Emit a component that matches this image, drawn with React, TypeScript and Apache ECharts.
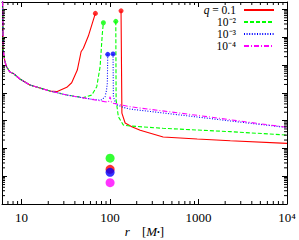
import React, { useEffect, useRef } from "react";
import * as echarts from "echarts";

const X_MIN = 6;
const X_MAX = 10000;
const Y_MIN = 1;
const Y_MAX = 1.85e7;

const names = ["q = 0.1", "10⁻²", "10⁻³", "10⁻⁴"];
const colors = ["#ff0000", "#00ff00", "#0000ff", "#ff00ff"];
const xTickLabels: Record<number, string> = { 10: "10", 100: "100", 1000: "1000", 10000: "10⁴" };

// q = 0.1
const q1InnerX = [6.1, 6.19, 6.47, 6.76, 7.36, 8.04, 9.57, 12.4, 20.9, 24.9, 32.4, 36.8, 42.6, 47, 49.9, 56.8, 64.7, 68.2];
const q1InnerY = [2e7, 3.46e5, 1.31e5, 8.7e4, 5.6e4, 5.0e4, 3.13e4, 1.91e4, 1.16e4, 1.1e4, 1.58e4, 2.3e4, 6.6e4, 3.0e5, 4.0e5, 1.1e6, 4.2e6, 7.2e6];
const q1OuterX = [133, 136, 148, 176, 219, 398, 966, 2285, 10000];
const q1OuterY = [8.9e6, 1.87e3, 818, 603, 450, 257, 218, 189, 152];

// q = 1e-2
const q2InnerX = [6.1, 6.19, 6.47, 6.76, 7.36, 8.04, 9.57, 12.4, 20.9, 32.6, 49.9, 62.1, 70.7, 77.1, 81.8, 84.0];
const q2InnerY = [2e7, 3.46e5, 1.31e5, 8.7e4, 5.6e4, 5.0e4, 3.13e4, 1.91e4, 1.16e4, 8.3e3, 6.7e3, 8.3e3, 1.66e4, 8.7e4, 1.41e6, 3.31e6];
const q2OuterX = [116, 117, 124, 141, 168, 398, 2285, 10000];
const q2OuterY = [3.72e6, 5.5e3, 1.38e3, 692, 640, 528, 400, 303];

// q = 1e-3
const q3InnerX = [6.1, 6.19, 6.47, 6.76, 7.36, 8.04, 9.57, 12.4, 20.9, 32.6, 59.3, 75, 80.5, 87.7, 91, 93.1, 94.1];
const q3InnerY = [2e7, 3.46e5, 1.31e5, 8.7e4, 5.6e4, 5.0e4, 3.13e4, 1.91e4, 1.16e4, 8.3e3, 5.98e3, 5.5e3, 5.6e3, 7.2e3, 1.2e4, 2.24e4, 2.43e5];
const q3OuterX = [108, 109, 117, 141, 168, 966, 2285, 10000];
const q3OuterY = [2.5e5, 7.2e3, 3.8e3, 3.0e3, 2.6e3, 1.35e3, 970, 565];

// q = 1e-4
const q4X = [6.1, 6.19, 6.47, 6.76, 7.36, 8.04, 9.57, 12.4, 20.9, 32.6, 59.3, 87.7, 95.7, 100, 104.5, 168, 269, 966, 2285, 10000];
const q4Y = [2e7, 3.46e5, 1.31e5, 8.7e4, 5.6e4, 5.0e4, 3.13e4, 1.91e4, 1.16e4, 8.3e3, 5.98e3, 4.79e3, 4.66e3, 7.2e3, 4.28e3, 3.16e3, 2.6e3, 1.55e3, 1.07e3, 575];

// end-point dots of the branches
const dotsRedX = [68.2, 133];
const dotsRedY = [7.2e6, 8.9e6];
const dotsGreenX = [84.0, 116];
const dotsGreenY = [3.31e6, 3.72e6];
const dotsBlueX = [94.1, 108];
const dotsBlueY = [2.43e5, 2.5e5];

// big markers at r = 100 (drawn in order green, red, blue, magenta)
const markerX = [100, 100, 100, 100];
const markerY = [44.7, 17.7, 13.8, 5.85];
const markerColors = ["#00ff00", "#ff0000", "#0000ff", "#ff00ff"];

// minor tick multipliers
const minorMult = [2, 3, 4, 5, 6, 7, 8, 9];
const xDecades = [1, 10, 100, 1000];
const yDecades = [1, 10, 100, 1000, 1e4, 1e5, 1e6, 1e7];

const FONT = "Liberation Serif";

function pairs(xs: number[], ys: number[]) {
  return xs.map((x, i) => [x, ys[i]]);
}

export default function App() {
  const ref = useRef<HTMLDivElement>(null);
  useEffect(() => {
    if (!ref.current) return;
    const chart = echarts.init(ref.current, undefined, { renderer: "svg" });

    const xMinor: number[] = [];
    xDecades.forEach((d) => minorMult.forEach((m) => { const v = d * m; if (v > X_MIN && v < X_MAX) xMinor.push(v); }));
    const yMinor: number[] = [];
    yDecades.forEach((d) => minorMult.forEach((m) => { const v = d * m; if (v > Y_MIN && v < Y_MAX) yMinor.push(v); }));

    const lineTypes: any[] = ["solid", [4, 2], [1, 1.6], [5, 2, 1, 2]];
    const lineSeries = (name: string, idx: number, data: number[][]) => ({
      type: "line",
      name,
      data,
      symbol: "none",
      showSymbol: false,
      lineStyle: { color: colors[idx], width: 1.1, type: lineTypes[idx] },
      itemStyle: { color: colors[idx] },
      z: 2 + idx,
      silent: true,
    });
    const dotSeries = (idx: number, xs: number[], ys: number[]) => ({
      type: "scatter",
      name: "dots" + idx,
      data: pairs(xs, ys),
      symbol: "circle",
      symbolSize: 5,
      itemStyle: { color: colors[idx] },
      z: 10,
      silent: true,
    });
    const tickStyle = { stroke: "#000", lineWidth: 1 };

    const axisCommonX = {
      type: "log",
      logBase: 10,
      min: X_MIN,
      max: X_MAX,
      splitLine: { show: false },
      axisLine: { show: true, lineStyle: { color: "#000", width: 1 } },
      axisTick: { show: true, inside: true, length: 5, lineStyle: { color: "#000" } },
    };
    const axisCommonY = {
      type: "log",
      logBase: 10,
      min: Y_MIN,
      max: Y_MAX,
      splitLine: { show: false },
      axisLine: { show: true, lineStyle: { color: "#000", width: 1 } },
      axisTick: { show: true, inside: true, length: 5, lineStyle: { color: "#000" } },
      axisLabel: { show: false },
    };

    chart.setOption({
      animation: false,
      grid: { left: 2, right: 12, top: 2, bottom: 36, containLabel: false, outerBoundsMode: "none" },
      legend: {
        data: names,
        orient: "vertical",
        align: "right",
        right: 24,
        top: 4,
        padding: 0,
        itemWidth: 30,
        itemHeight: 10,
        itemGap: 0,
        selectedMode: false,
        itemStyle: { opacity: 0 },
        formatter: (n: string) => (n === "q = 0.1" ? "{i|q} = 0.1" : n),
        textStyle: {
          fontFamily: FONT,
          fontSize: 11.5,
          color: "#000",
          lineHeight: 11,
          padding: [0, 3, 0, 0],
          rich: { i: { fontFamily: FONT, fontSize: 11.5, fontStyle: "italic", color: "#000", lineHeight: 11 } },
        },
      },
      xAxis: [
        {
          ...axisCommonX,
          position: "bottom",
          name: "{i|r}{sp|}[{i|M}{sub|•}]",
          nameLocation: "middle",
          nameGap: 20,
          nameMoveOverlap: false,
          nameTextStyle: {
            fontFamily: FONT,
            fontSize: 13,
            color: "#000",
            lineHeight: 14,
            rich: {
              i: { fontFamily: FONT, fontSize: 13, fontStyle: "italic", color: "#000", lineHeight: 14 },
              sp: { width: 12, lineHeight: 14 },
              sub: { fontFamily: FONT, fontSize: 8, color: "#000", lineHeight: 14, padding: [3, 0, 0, 0] },
            },
          },
          axisLabel: {
            show: true,
            margin: 7,
            showMinLabel: false,
            fontFamily: FONT,
            fontSize: 13,
            color: "#000",
            formatter: (v: number) => xTickLabels[Math.round(v)] ?? "",
          },
        },
        { ...axisCommonX, position: "top", axisLabel: { show: false } },
      ],
      yAxis: [
        { ...axisCommonY, position: "left" },
        { ...axisCommonY, position: "right" },
      ],
      series: [
        lineSeries(names[0], 0, pairs(q1InnerX, q1InnerY)),
        lineSeries(names[0], 0, pairs(q1OuterX, q1OuterY)),
        lineSeries(names[1], 1, pairs(q2InnerX, q2InnerY)),
        lineSeries(names[1], 1, pairs(q2OuterX, q2OuterY)),
        lineSeries(names[2], 2, pairs(q3InnerX, q3InnerY)),
        lineSeries(names[2], 2, pairs(q3OuterX, q3OuterY)),
        lineSeries(names[3], 3, pairs(q4X, q4Y)),
        dotSeries(0, dotsRedX, dotsRedY),
        dotSeries(1, dotsGreenX, dotsGreenY),
        dotSeries(2, dotsBlueX, dotsBlueY),
        {
          type: "scatter",
          name: "markers",
          data: markerX.map((x, i) => ({ value: [x, markerY[i]], itemStyle: { color: markerColors[i] } })),
          symbol: "circle",
          symbolSize: 9,
          z: 11,
          silent: true,
        },
        {
          type: "custom",
          name: "xminor",
          silent: true,
          clip: false,
          z: 20,
          data: xMinor.map((v) => [v, Y_MIN]),
          renderItem: (_p: any, api: any) => {
            const x = api.value(0);
            const b = api.coord([x, Y_MIN]);
            const t = api.coord([x, Y_MAX]);
            return {
              type: "group",
              children: [
                { type: "line", shape: { x1: b[0], y1: b[1], x2: b[0], y2: b[1] - 3 }, style: tickStyle },
                { type: "line", shape: { x1: t[0], y1: t[1], x2: t[0], y2: t[1] + 3 }, style: tickStyle },
              ],
            };
          },
        },
        {
          type: "custom",
          name: "yminor",
          silent: true,
          clip: false,
          z: 20,
          data: yMinor.map((v) => [X_MIN, v]),
          renderItem: (_p: any, api: any) => {
            const y = api.value(1);
            const l = api.coord([X_MIN, y]);
            const r = api.coord([X_MAX, y]);
            return {
              type: "group",
              children: [
                { type: "line", shape: { x1: l[0], y1: l[1], x2: l[0] + 3, y2: l[1] }, style: tickStyle },
                { type: "line", shape: { x1: r[0], y1: r[1], x2: r[0] - 3, y2: r[1] }, style: tickStyle },
              ],
            };
          },
        },
      ],
    });
    return () => chart.dispose();
  }, []);
  return <div ref={ref} style={{ position: "fixed", left: 0, top: 0, width: 299, height: 240, background: "#fff" }} />;
}
